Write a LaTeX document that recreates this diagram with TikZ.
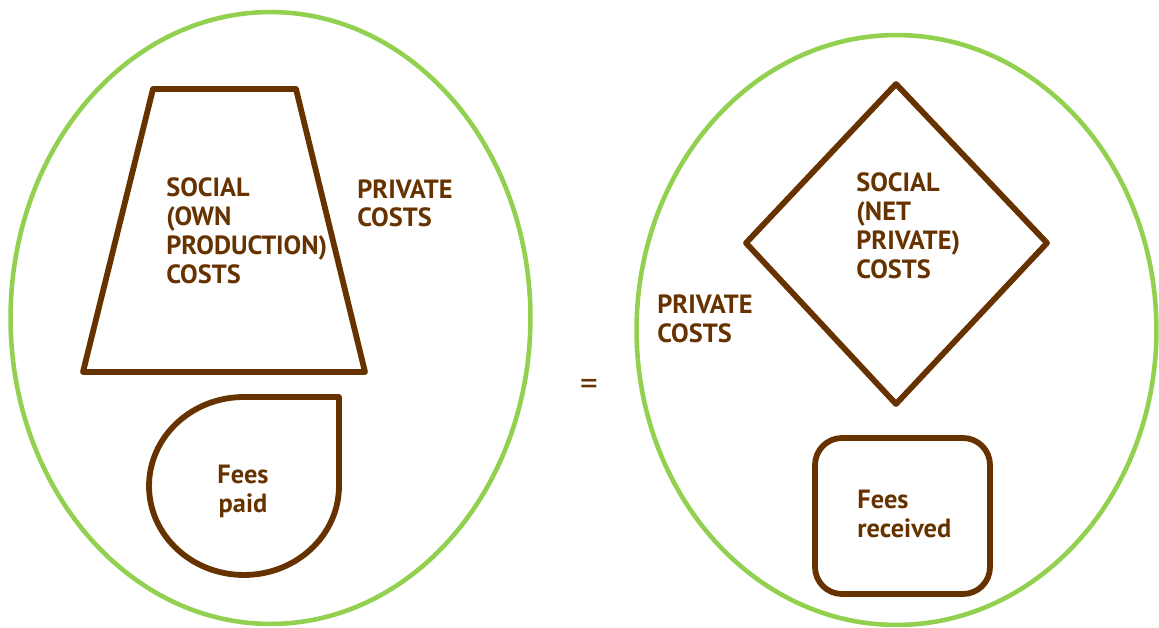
\documentclass[tikz,border=0pt]{standalone}
\usepackage{fontspec}
\setmainfont{PT Sans}
\usetikzlibrary{positioning}
\definecolor{costbrown}{RGB}{102,51,0}
\definecolor{ringgreen}{RGB}{146,208,80}

\begin{document}
\begin{tikzpicture}[
    x=0.02cm, y=-0.02cm,
    ring/.style={draw=ringgreen, line width=2.6pt},
    shapeline/.style={draw=costbrown, line width=3.3pt, line join=round},
    every node/.style={
        text=costbrown,
        inner sep=0pt,
        align=left,
        anchor=base west,
        font=\fontsize{15}{16.4}\selectfont\bfseries
    }
]
\useasboundingbox (0,0) rectangle (1159,628);

% ======================
% Left circle
% ======================
\draw[ring] (270.5,318) ellipse [x radius=5.2cm, y radius=6.12cm];
\draw[shapeline] (153,89) -- (296,89) -- (365,372) -- (83,372) -- cycle;
\draw[shapeline] (244,397) arc[start angle=90, end angle=360, x radius=1.9cm, y radius=1.78cm]
    -- (339,397) -- cycle;

% base = last line
\node (left_social) at (166,283) {SOCIAL\\(OWN\\PRODUCTION)\\COSTS};
\node (left_private) at (357,227) {PRIVATE\\COSTS};
\node[anchor=base, align=center] (fees_paid) at (243,512) {Fees\\paid};

% ======================
% Equals sign
% ======================
\node[anchor=base, font=\fontsize{20}{24}\selectfont] (equals) at (589,395) {=};

% ======================
% Right circle
% ======================
\draw[ring] (896.5,330) ellipse [x radius=5.2cm, y radius=5.9cm];
\draw[shapeline] (896,84) -- (1047,243) -- (896,404) -- (746,243) -- cycle;
\draw[shapeline, rounded corners=0.54cm] (815,438) rectangle (990,594);

\node (right_social) at (856,278) {SOCIAL\\(NET\\PRIVATE)\\COSTS};
\node (right_private) at (657,342) {PRIVATE\\COSTS};
\node (fees_received) at (857,537) {Fees\\received};

\end{tikzpicture}
\end{document}
